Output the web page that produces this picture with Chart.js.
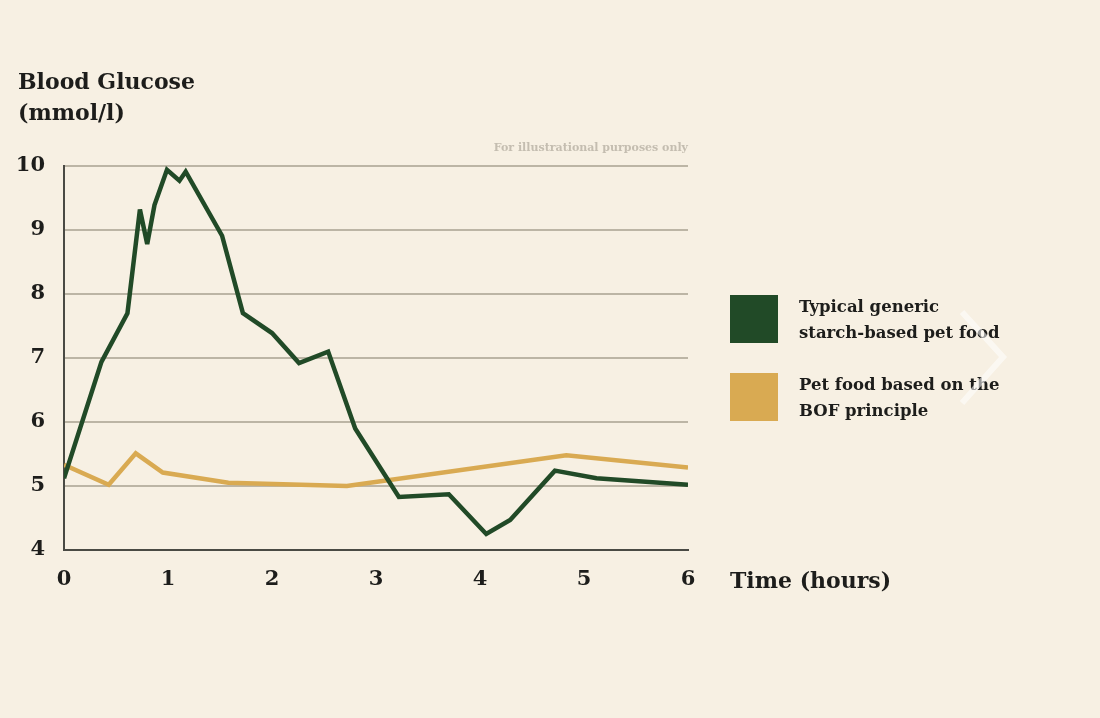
<!DOCTYPE html>
<html>
<head>
<meta charset="utf-8">
<script src="https://cdn.jsdelivr.net/npm/chart.js@4.4.1/dist/chart.umd.min.js"></script>
<style>
  html, body { margin: 0; padding: 0; background: #f7f0e3; }
  #wrap { width: 1100px; height: 718px; position: relative; }
</style>
</head>
<body>
<div id="wrap"><canvas id="c" width="1100" height="718"></canvas></div>
<script>
// ---- data ----
const seriesLabels = [
  ["Typical generic", "starch-based pet food"],
  ["Pet food based on the", "BOF principle"]
];
const starchHours = [0, 0.36, 0.61, 0.73, 0.80, 0.87, 0.99, 1.11, 1.17, 1.52, 1.72, 2.00, 2.26, 2.54, 2.80, 3.22, 3.70, 4.06, 4.29, 4.72, 5.12, 6.0];
const starchGlucose = [5.12, 6.94, 7.70, 9.32, 8.78, 9.39, 9.94, 9.77, 9.91, 8.91, 7.70, 7.39, 6.92, 7.10, 5.90, 4.83, 4.87, 4.25, 4.47, 5.24, 5.12, 5.02];
const bofHours = [0, 0.43, 0.69, 0.95, 1.58, 2.72, 4.83, 6.0];
const bofGlucose = [5.33, 5.02, 5.51, 5.21, 5.05, 5.00, 5.48, 5.29];
const xTicks = [0, 1, 2, 3, 4, 5, 6];
const yTicks = [4, 5, 6, 7, 8, 9, 10];
const yTitle = ["Blood Glucose", "(mmol/l)"];
const xTitle = "Time (hours)";
const note = "For illustrational purposes only";

const GREEN = "#214a27";
const GOLD = "#d9aa52";
const TEXT = "#1d1d1b";
const SERIF = "'DejaVu Serif', 'Liberation Serif', serif";

const toPts = (xs, ys) => xs.map((x, i) => ({ x: x, y: ys[i] }));

const decor = {
  id: "decor",
  beforeDatasetsDraw(chart) { chart.ctx.miterLimit = 2.5; },
  afterDraw(chart) {
    const ctx = chart.ctx;
    const area = chart.chartArea;
    ctx.save();
    // y-axis title
    ctx.fillStyle = TEXT;
    ctx.font = "bold 22px " + SERIF;
    ctx.textBaseline = "alphabetic";
    ctx.textAlign = "left";
    ctx.fillText(yTitle[0], 18, 89);
    ctx.fillText(yTitle[1], 18, 120);
    // note
    ctx.fillStyle = "#c4bdb0";
    ctx.font = "bold 11px " + SERIF;
    ctx.textAlign = "right";
    ctx.fillText(note, area.right, 151);
    // x title
    ctx.fillStyle = TEXT;
    ctx.font = "bold 22px " + SERIF;
    ctx.textAlign = "left";
    ctx.fillText(xTitle, 730, 588);
    // legend
    const ds = chart.data.datasets;
    const boxTops = [295, 373];
    ds.forEach((d, i) => {
      ctx.fillStyle = d.borderColor;
      ctx.fillRect(730, boxTops[i], 48, 48);
      ctx.fillStyle = TEXT;
      ctx.font = "bold 16.5px " + SERIF;
      ctx.textAlign = "left";
      seriesLabels[i].forEach((ln, j) => {
        ctx.fillText(ln, 799, boxTops[i] + 17 + j * 26);
      });
    });
    // faint chevron overlay
    ctx.strokeStyle = "rgba(255,255,255,0.55)";
    ctx.lineWidth = 6;
    ctx.beginPath();
    ctx.moveTo(962, 312);
    ctx.lineTo(1003, 357);
    ctx.lineTo(962, 403);
    ctx.stroke();
    ctx.restore();
  }
};

new Chart(document.getElementById("c"), {
  type: "line",
  data: {
    datasets: [
      {
        label: seriesLabels[0].join(" "),
        data: toPts(starchHours, starchGlucose),
        borderColor: GREEN,
        backgroundColor: GREEN,
        borderWidth: 4.5,
        borderJoinStyle: "miter",
        pointRadius: 0,
        tension: 0
      },
      {
        label: seriesLabels[1].join(" "),
        data: toPts(bofHours, bofGlucose),
        borderColor: GOLD,
        backgroundColor: GOLD,
        borderWidth: 4.5,
        borderJoinStyle: "miter",
        pointRadius: 0,
        tension: 0
      }
    ]
  },
  options: {
    responsive: false,
    animation: false,
    devicePixelRatio: 1,
    layout: { padding: { left: 0, right: 412, top: 166, bottom: 118 } },
    plugins: { legend: { display: false }, tooltip: { enabled: false } },
    scales: {
      x: {
        type: "linear",
        min: xTicks[0],
        max: xTicks[xTicks.length - 1],
        afterBuildTicks(s) { s.ticks = xTicks.map(v => ({ value: v })); },
        afterFit(s) { s.height = 50; },
        grid: { display: false, drawTicks: false },
        border: { display: true, color: "#4a4a44", width: 2 },
        ticks: {
          padding: 17,
          color: TEXT,
          font: { family: SERIF, size: 21, weight: "bold" }
        }
      },
      y: {
        min: yTicks[0],
        max: yTicks[yTicks.length - 1],
        afterBuildTicks(s) { s.ticks = yTicks.map(v => ({ value: v })); },
        afterFit(s) { s.width = 64; },
        grid: { display: true, drawTicks: false, color: "#bcb5a5", lineWidth: 2 },
        border: { display: true, color: "#4a4a44", width: 2 },
        ticks: {
          padding: 19,
          color: TEXT,
          font: { family: SERIF, size: 21, weight: "bold" }
        }
      }
    }
  },
  plugins: [decor]
});
</script>
</body>
</html>
